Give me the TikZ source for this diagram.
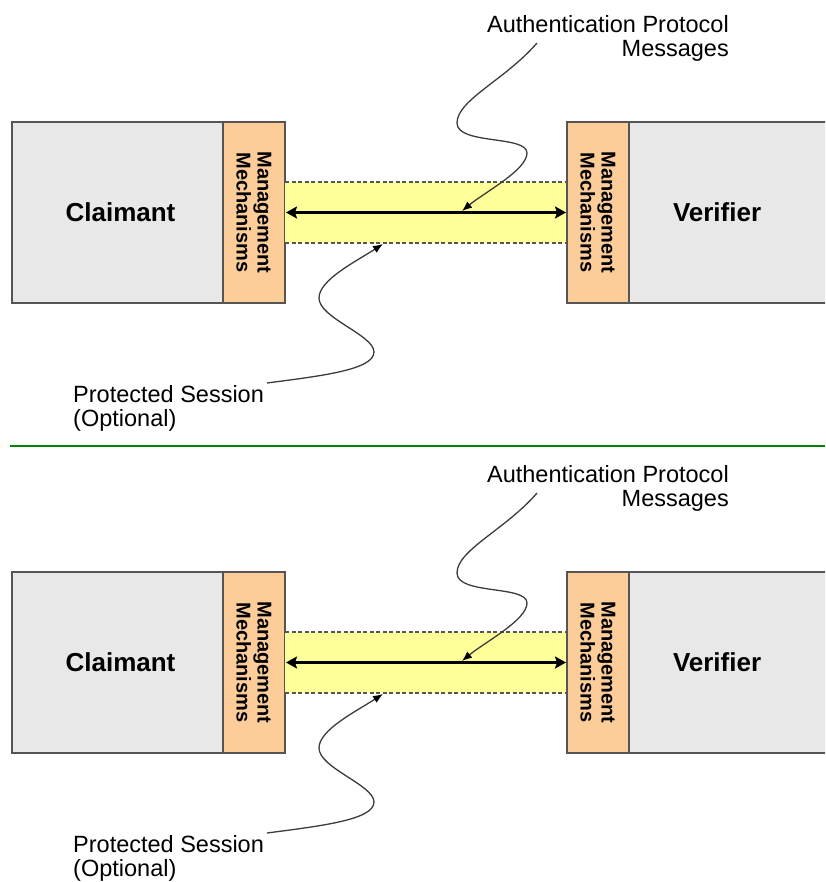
\documentclass[tikz,border=0pt]{standalone}
\usepackage{fontspec}
\setmainfont{Liberation Sans}
\usetikzlibrary{positioning,arrows.meta}

\definecolor{partygray}{RGB}{232,232,232}
\definecolor{mechorange}{RGB}{252,204,153}
\definecolor{sessyellow}{RGB}{255,255,153}
\definecolor{boxline}{RGB}{85,85,85}
\definecolor{pointgray}{RGB}{60,60,60}
\definecolor{dividergreen}{RGB}{0,128,0}

\begin{document}
\begin{tikzpicture}[x=1pt,y=-1pt,
  party/.style={draw=boxline,fill=partygray,line width=1.5pt,minimum width=211pt,
    minimum height=181pt,inner sep=0pt,outer sep=0pt,font=\fontsize{26}{26}\selectfont\bfseries},
  mech/.style={draw=boxline,fill=mechorange,line width=1.5pt,minimum width=62pt,
    minimum height=181pt,inner sep=0pt,outer sep=0pt},
  mechtext/.style={rotate=-90,align=center,inner sep=0pt,font=\fontsize{20}{21}\selectfont\bfseries},
  band/.style={fill=sessyellow,minimum width=282pt,minimum height=61pt,inner sep=0pt,outer sep=0pt},
  sessedge/.style={draw=boxline,line width=1.5pt,dash pattern=on 4pt off 2.5pt},
  msgarrow/.style={line width=3pt,{Stealth[length=11pt,width=12pt,inset=2pt]}-{Stealth[length=11pt,width=12pt,inset=2pt]},
    shorten <=1pt,shorten >=1pt},
  callout/.style={inner sep=0pt,font=\fontsize{23.5}{24.5}\selectfont},
  pointer/.style={draw=pointgray,line width=1.3pt,-{Latex[length=10pt,width=8pt,black]}},
  ]
  \clip (0,0) rectangle (825,882);

  \foreach \oy in {0,450}
  {
  \begin{scope}[shift={(0,\oy)}]
    % boxes of the two parties
    \node[party] (claimant) at (117.5,212.5) {};
    \node[party,draw=none,fill=none,minimum width=0pt,minimum height=0pt]
      (claimanttext) at (120.5,212.5) {Claimant};
    \node[mech,right=0pt of claimant] (mechL) {};
    \node[band,right=0pt of mechL] (session) {};
    \node[mech,right=0pt of session] (mechR) {};
    \node[party,right=0pt of mechR] (verifier) {};
    \node[party,draw=none,fill=none,minimum width=0pt,minimum height=0pt,
      right=44pt of mechR] (verifiertext) {Verifier};
    \node[mechtext] (mechLtext) at (mechL) {Management\\Mechanisms};
    \node[mechtext] (mechRtext) at (mechR) {Management\\Mechanisms};

    % protected session
    \draw[sessedge] (session.north west) -- (session.north east);
    \draw[sessedge] (session.south west) -- (session.south east);
    \draw[msgarrow] (session.west) -- (session.east);

    % callouts
    \node[callout,align=right,anchor=north east] (authmsg) at (729,15)
      {Authentication Protocol\\Messages};
    \node[callout,align=left,anchor=north west] (protsess) at (73,385)
      {Protected Session\\(Optional)};

    \coordinate (msgfrom) at (537,43);
    \coordinate (msgto) at (462,211);
    \coordinate (sessfrom) at (267,383);
    \coordinate (sessto) at (383,244);

    \draw[pointer] (msgfrom) .. controls (505,80) and (457,100) .. (457,123)
      .. controls (457,145) and (527,135) .. (527,153)
      .. controls (527,170) and (485,192) .. (msgto);
    \draw[pointer] (sessfrom) .. controls (320,376) and (374,370) .. (374,352)
      .. controls (374,335) and (319,318) .. (319,298)
      .. controls (319,280) and (355,262) .. (sessto);
  \end{scope}
  }

  \draw[dividergreen,line width=2pt] (10,445.5) -- (825,445.5);
\end{tikzpicture}
\end{document}
